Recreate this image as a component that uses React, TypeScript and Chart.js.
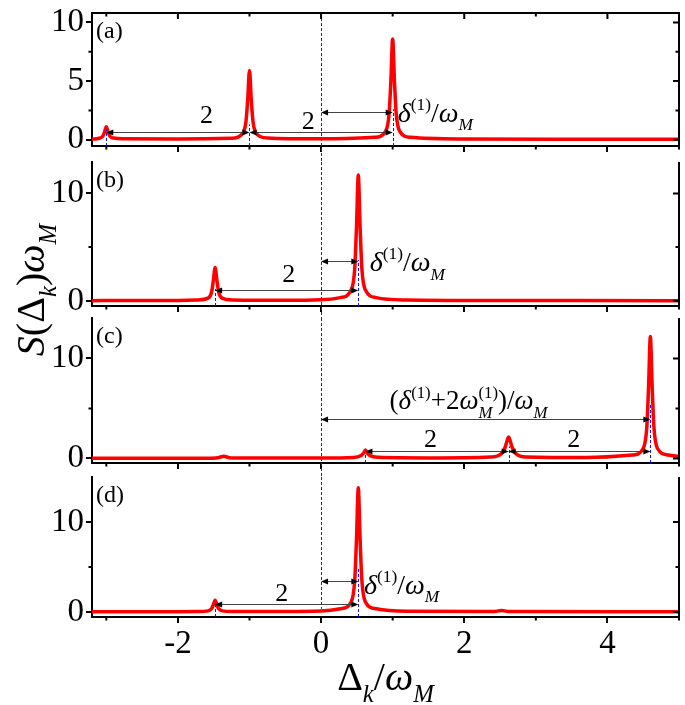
import { useEffect, useRef } from 'react';
import { Chart, registerables } from 'chart.js';
Chart.register(...registerables);

// ---------- shared axis values ----------
const X_MIN = -3.2;
const X_MAX = 5;
const xMajor = [-2, 0, 2, 4];
const xMinor = [-3, -1, 1, 3, 5];

// ---------- panel (a) ----------
const aX = [-3.2, -3.1, -3.05, -3.025, -3.0, -2.975, -2.95, -2.9, -2.75, -2.0, -1.25, -1.1, -1.05, -1.025, -1.0, -0.975, -0.95, -0.9, -0.75, 0.0, 0.75, 0.9, 0.95, 0.975, 1.0, 1.025, 1.05, 1.1, 1.25, 2.0, 3.5, 5.0];
const aY = [0.05, 0.12, 0.3, 0.65, 1.1, 0.65, 0.3, 0.14, 0.07, 0.05, 0.12, 0.5, 1.5, 3.4, 5.9, 3.4, 1.5, 0.5, 0.15, 0.07, 0.2, 0.7, 2.2, 5.0, 8.6, 5.0, 2.2, 0.7, 0.2, 0.06, 0.04, 0.03];
const aYRange = [-0.54, 10.81];
const aYMajor = [0, 5, 10];
const aYMinor = [2.5, 7.5];
const aPeakX = [-3, -1, 1];
const aPeakTop = [0.9, 1.3, 2.6];
const aArrowFrom = [-3, -1, 0];
const aArrowTo = [-1, 1, 1];
const aArrowY = [0.68, 0.62, 2.35];
const aLabelKind = ['2', '2', 'delta'];
const aLabelX = [-1.6, -0.18, 1.07];
const aLabelY = [2.0, 1.5, 2.3];

// ---------- panel (b) ----------
const bX = [-3.2, -2.0, -1.73, -1.58, -1.53, -1.505, -1.48, -1.455, -1.43, -1.38, -1.23, -0.5, 0.0, 0.27, 0.42, 0.47, 0.495, 0.52, 0.545, 0.57, 0.62, 0.77, 1.2, 2.5, 5.0];
const bY = [0.02, 0.04, 0.08, 0.25, 0.8, 1.9, 3.1, 1.9, 0.8, 0.25, 0.08, 0.05, 0.1, 0.3, 1.0, 3.0, 6.9, 11.7, 6.9, 3.0, 1.0, 0.3, 0.08, 0.03, 0.02];
const bYRange = [-0.48, 12.92];
const bYMajor = [0, 10];
const bYMinor = [5];
const bPeakX = [-1.48, 0.52];
const bPeakTop = [1.1, 3.8];
const bArrowFrom = [-1.48, 0];
const bArrowTo = [0.52, 0.52];
const bArrowY = [1.0, 3.75];
const bLabelKind = ['2', 'delta'];
const bLabelX = [-0.45, 0.68];
const bLabelY = [2.4, 3.6];

// ---------- panel (c) ----------
const cX = [-3.2, -1.6, -1.44, -1.36, -1.28, -1.1, 0.0, 0.45, 0.56, 0.595, 0.62, 0.645, 0.68, 0.8, 1.5, 2.37, 2.52, 2.57, 2.595, 2.62, 2.645, 2.67, 2.72, 2.87, 3.7, 4.35, 4.5, 4.55, 4.575, 4.6, 4.625, 4.65, 4.7, 4.85, 5.0];
const cY = [0.02, 0.03, 0.08, 0.22, 0.08, 0.04, 0.04, 0.1, 0.3, 0.55, 0.85, 0.55, 0.3, 0.12, 0.06, 0.15, 0.5, 1.1, 1.7, 2.15, 1.7, 1.1, 0.5, 0.15, 0.1, 0.35, 1.0, 3.1, 7.2, 12.2, 7.2, 3.1, 1.0, 0.35, 0.2];
const cYRange = [-0.45, 14.04];
const cYMajor = [0, 10];
const cYMinor = [5];
const cPeakX = [0.62, 2.62, 4.6];
const cPeakTop = [0.5, 1.2, 5.5];
const cArrowFrom = [0, 0.62, 2.62];
const cArrowTo = [4.6, 2.62, 4.6];
const cArrowY = [3.9, 0.75, 0.75];
const cLabelKind = ['sum', '2', '2'];
const cLabelX = [2.06, 1.53, 3.53];
const cLabelY = [5.8, 1.85, 1.85];

// ---------- panel (d) ----------
const dX = [-3.2, -2.0, -1.73, -1.58, -1.53, -1.505, -1.48, -1.455, -1.43, -1.38, -1.23, -0.5, 0.0, 0.27, 0.42, 0.47, 0.495, 0.52, 0.545, 0.57, 0.62, 0.77, 1.2, 2.4, 2.52, 2.64, 5.0];
const dY = [0.02, 0.03, 0.05, 0.12, 0.35, 0.8, 1.3, 0.8, 0.35, 0.12, 0.05, 0.05, 0.1, 0.35, 1.1, 3.5, 8.1, 13.8, 8.1, 3.5, 1.1, 0.35, 0.08, 0.04, 0.15, 0.04, 0.02];
const dYRange = [-0.56, 15.0];
const dYMajor = [0, 10];
const dYMinor = [5];
const dPeakX = [-1.48, 0.52];
const dPeakTop = [1.0, 5.0];
const dArrowFrom = [-1.48, 0];
const dArrowTo = [0.52, 0.52];
const dArrowY = [0.93, 3.4];
const dLabelKind = ['2', 'delta'];
const dLabelX = [-0.55, 0.6];
const dLabelY = [2.0, 3.0];
const dZeroLineEnd = 0.35;

// ---------- layout / style ----------
const W = 685;
const H = 705;
const AREA_LEFT = 92;
const AREA_RIGHT = 679;
const panelTop = [13, 162, 318, 477];
const panelBottom = [146, 306, 463, 617];
const xAxisH = [10, 10, 10, 50];
const RED = '#ff0000';
const SERIF = '"Liberation Serif", "Times New Roman", Times, serif';
const TICK_FONT = 33;

type Seg = { t: string; it?: boolean; sub?: boolean; sup?: boolean; under?: string };

const DELTA_LABEL: Seg[] = [
  { t: 'δ', it: true }, { t: '(1)', sup: true }, { t: '/' }, { t: 'ω', it: true }, { t: 'M', it: true, sub: true },
];
const SUM_LABEL: Seg[] = [
  { t: '(' }, { t: 'δ', it: true }, { t: '(1)', sup: true }, { t: '+2' }, { t: 'ω', it: true },
  { t: '(1)', sup: true, under: 'M' }, { t: ')/' }, { t: 'ω', it: true }, { t: 'M', it: true, sub: true },
];
const Y_TITLE: Seg[] = [
  { t: 'S', it: true }, { t: '(Δ' }, { t: 'k', it: true, sub: true }, { t: ')' }, { t: 'ω', it: true }, { t: 'M', it: true, sub: true },
];
const X_TITLE: Seg[] = [
  { t: 'Δ' }, { t: 'k', it: true, sub: true }, { t: '/' }, { t: 'ω', it: true }, { t: 'M', it: true, sub: true },
];

function fontStr(it: boolean, size: number) {
  return `${it ? 'italic ' : ''}${size}px ${SERIF}`;
}

function drawRich(ctx: CanvasRenderingContext2D, segs: Seg[], x: number, baseline: number, size: number, align: 'left' | 'center') {
  const small = size * 0.62;
  const widths = segs.map((s) => {
    ctx.font = fontStr(!!s.it, s.sub || s.sup ? small : size);
    let w = ctx.measureText(s.t).width;
    if (s.under) {
      ctx.font = fontStr(true, small);
      w = Math.max(w, ctx.measureText(s.under).width);
    }
    return w;
  });
  const total = widths.reduce((a, b) => a + b, 0);
  let cx = align === 'center' ? x - total / 2 : x;
  ctx.textAlign = 'left';
  ctx.textBaseline = 'alphabetic';
  segs.forEach((s, i) => {
    const sz = s.sub || s.sup ? small : size;
    ctx.font = fontStr(!!s.it, sz);
    const dy = s.sub ? size * 0.3 : s.sup ? -size * 0.42 : 0;
    ctx.fillText(s.t, cx, baseline + dy);
    if (s.under) {
      ctx.font = fontStr(true, small);
      ctx.fillText(s.under, cx, baseline + size * 0.3);
    }
    cx += widths[i];
  });
}

type Panel = {
  name: string;
  xs: number[]; ys: number[];
  yRange: number[]; yMajor: number[]; yMinor: number[];
  peakX: number[]; peakTop: number[];
  arrowFrom: number[]; arrowTo: number[]; arrowY: number[];
  labelKind: string[]; labelX: number[]; labelY: number[];
  top: number; bottom: number; axisH: number; gapBelow: number;
  topFrame: boolean; showX: boolean; zeroEnd: number | null; titles: boolean;
};

const PANELS: Panel[] = [
  { name: '(a)', xs: aX, ys: aY, yRange: aYRange, yMajor: aYMajor, yMinor: aYMinor, peakX: aPeakX, peakTop: aPeakTop, arrowFrom: aArrowFrom, arrowTo: aArrowTo, arrowY: aArrowY, labelKind: aLabelKind, labelX: aLabelX, labelY: aLabelY, top: panelTop[0], bottom: panelBottom[0], axisH: xAxisH[0], gapBelow: panelTop[1] - panelBottom[0], topFrame: true, showX: false, zeroEnd: null, titles: false },
  { name: '(b)', xs: bX, ys: bY, yRange: bYRange, yMajor: bYMajor, yMinor: bYMinor, peakX: bPeakX, peakTop: bPeakTop, arrowFrom: bArrowFrom, arrowTo: bArrowTo, arrowY: bArrowY, labelKind: bLabelKind, labelX: bLabelX, labelY: bLabelY, top: panelTop[1], bottom: panelBottom[1], axisH: xAxisH[1], gapBelow: panelTop[2] - panelBottom[1], topFrame: false, showX: false, zeroEnd: null, titles: false },
  { name: '(c)', xs: cX, ys: cY, yRange: cYRange, yMajor: cYMajor, yMinor: cYMinor, peakX: cPeakX, peakTop: cPeakTop, arrowFrom: cArrowFrom, arrowTo: cArrowTo, arrowY: cArrowY, labelKind: cLabelKind, labelX: cLabelX, labelY: cLabelY, top: panelTop[2], bottom: panelBottom[2], axisH: xAxisH[2], gapBelow: panelTop[3] - panelBottom[2], topFrame: false, showX: false, zeroEnd: null, titles: false },
  { name: '(d)', xs: dX, ys: dY, yRange: dYRange, yMajor: dYMajor, yMinor: dYMinor, peakX: dPeakX, peakTop: dPeakTop, arrowFrom: dArrowFrom, arrowTo: dArrowTo, arrowY: dArrowY, labelKind: dLabelKind, labelX: dLabelX, labelY: dLabelY, top: panelTop[3], bottom: panelBottom[3], axisH: xAxisH[3], gapBelow: 0, topFrame: false, showX: true, zeroEnd: dZeroLineEnd, titles: true },
];

function drawArrow(ctx: CanvasRenderingContext2D, x1: number, x2: number, y: number) {
  const hl = 7, hw = 3;
  ctx.strokeStyle = '#444';
  ctx.lineWidth = 1;
  ctx.setLineDash([]);
  ctx.beginPath();
  ctx.moveTo(x1 + 2, y);
  ctx.lineTo(x2 - 2, y);
  ctx.stroke();
  ctx.fillStyle = '#000';
  ctx.beginPath();
  ctx.moveTo(x1, y); ctx.lineTo(x1 + hl, y - hw); ctx.lineTo(x1 + hl, y + hw); ctx.closePath();
  ctx.fill();
  ctx.beginPath();
  ctx.moveTo(x2, y); ctx.lineTo(x2 - hl, y - hw); ctx.lineTo(x2 - hl, y + hw); ctx.closePath();
  ctx.fill();
}

function makeDecor(p: Panel) {
  return {
    id: 'decor',
    beforeDatasetsDraw(chart: any) {
      const ctx: CanvasRenderingContext2D = chart.ctx;
      const ca = chart.chartArea;
      const xs = chart.scales.x, ys = chart.scales.y;
      const x0 = Math.round(xs.getPixelForValue(0)) + 0.5;
      const yEnd = p.zeroEnd !== null ? ys.getPixelForValue(p.zeroEnd) : ca.bottom + p.gapBelow;
      ctx.save();
      ctx.strokeStyle = '#333';
      ctx.lineWidth = 1;
      ctx.setLineDash([3, 2]);
      ctx.beginPath();
      ctx.moveTo(x0, ca.top);
      ctx.lineTo(x0, yEnd);
      ctx.stroke();
      ctx.restore();
    },
    afterDatasetsDraw(chart: any) {
      const ctx: CanvasRenderingContext2D = chart.ctx;
      const ca = chart.chartArea;
      const xs = chart.scales.x, ys = chart.scales.y;
      ctx.save();
      // blue dashed peak markers
      ctx.strokeStyle = '#1010ff';
      ctx.lineWidth = 1;
      ctx.setLineDash([3, 2]);
      p.peakX.forEach((px, i) => {
        const x = Math.round(xs.getPixelForValue(px)) + 0.5;
        ctx.beginPath();
        ctx.moveTo(x, ca.bottom);
        ctx.lineTo(x, ys.getPixelForValue(p.peakTop[i]));
        ctx.stroke();
      });
      // arrows
      p.arrowFrom.forEach((f, i) => {
        drawArrow(ctx, xs.getPixelForValue(f), xs.getPixelForValue(p.arrowTo[i]), Math.round(ys.getPixelForValue(p.arrowY[i])) + 0.5);
      });
      // labels
      ctx.fillStyle = '#000';
      p.labelKind.forEach((k, i) => {
        const x = xs.getPixelForValue(p.labelX[i]);
        const y = ys.getPixelForValue(p.labelY[i]);
        if (k === '2') {
          ctx.font = fontStr(false, 26);
          ctx.textAlign = 'center';
          ctx.textBaseline = 'middle';
          ctx.fillText('2', x, y);
        } else if (k === 'delta') {
          drawRich(ctx, DELTA_LABEL, x, y + 9, 28, 'left');
        } else {
          drawRich(ctx, SUM_LABEL, x, y + 9, 27, 'center');
        }
      });
      // frame: right border, top border, minor & mirrored ticks
      ctx.setLineDash([]);
      ctx.strokeStyle = '#000';
      ctx.lineWidth = 2;
      ctx.beginPath();
      ctx.moveTo(ca.right, p.topFrame ? ca.top - 1 : ca.top);
      ctx.lineTo(ca.right, ca.bottom + 1);
      if (p.topFrame) {
        ctx.moveTo(ca.left - 1, ca.top);
        ctx.lineTo(ca.right + 1, ca.top);
      }
      const maj = 6, mnr = 3.5;
      p.yMajor.forEach((v) => { const y = ys.getPixelForValue(v); ctx.moveTo(ca.right, y); ctx.lineTo(ca.right - maj, y); });
      p.yMinor.forEach((v) => {
        const y = ys.getPixelForValue(v);
        ctx.moveTo(ca.right, y); ctx.lineTo(ca.right - mnr, y);
        ctx.moveTo(ca.left, y); ctx.lineTo(ca.left - mnr, y);
      });
      xMinor.forEach((v) => {
        const x = xs.getPixelForValue(v);
        ctx.moveTo(x, ca.bottom); ctx.lineTo(x, ca.bottom + mnr);
      });
      if (p.topFrame) {
        xMajor.forEach((v) => { const x = xs.getPixelForValue(v); ctx.moveTo(x, ca.top); ctx.lineTo(x, ca.top + maj); });
        xMinor.forEach((v) => { const x = xs.getPixelForValue(v); ctx.moveTo(x, ca.top); ctx.lineTo(x, ca.top + mnr); });
      }
      ctx.stroke();
      // panel label
      ctx.fillStyle = '#000';
      ctx.font = fontStr(false, 24);
      ctx.textAlign = 'left';
      ctx.textBaseline = 'middle';
      ctx.fillText(p.name, ca.left + 4, ca.top + 19);
      // axis titles
      if (p.titles) {
        const cx = (ca.left + ca.right) / 2;
        drawRich(ctx, X_TITLE, cx, 690, 40, 'center');
        ctx.save();
        ctx.translate(44, 290);
        ctx.rotate(-Math.PI / 2);
        drawRich(ctx, Y_TITLE, 0, 0, 40, 'center');
        ctx.restore();
      }
      ctx.restore();
    },
  };
}

function buildConfig(p: Panel): any {
  const tickFont = { family: SERIF, size: TICK_FONT };
  return {
    type: 'line',
    data: {
      datasets: [{
        data: p.xs.map((x, i) => ({ x, y: p.ys[i] })),
        borderColor: RED,
        borderWidth: 3.5,
        pointRadius: 0,
        fill: false,
        cubicInterpolationMode: 'monotone',
        borderJoinStyle: 'round',
        borderCapStyle: 'round',
      }],
    },
    options: {
      animation: false,
      responsive: false,
      devicePixelRatio: 1,
      events: [],
      layout: { padding: { left: 0, right: W - AREA_RIGHT, top: p.top, bottom: H - p.bottom - p.axisH } },
      plugins: { legend: { display: false }, tooltip: { enabled: false }, title: { display: false } },
      scales: {
        x: {
          type: 'linear',
          min: X_MIN,
          max: X_MAX,
          afterBuildTicks: (s: any) => { s.ticks = xMajor.map((v) => ({ value: v })); },
          afterFit: (s: any) => { s.height = p.axisH; s.paddingLeft = 0; s.paddingRight = 0; },
          ticks: { display: p.showX, font: tickFont, color: '#000', padding: 2, maxRotation: 0, autoSkip: false },
          grid: { drawOnChartArea: false, drawTicks: true, tickLength: 6, color: '#000', lineWidth: 2 },
          border: { display: true, color: '#000', width: 2 },
        },
        y: {
          type: 'linear',
          min: p.yRange[0],
          max: p.yRange[1],
          afterBuildTicks: (s: any) => { s.ticks = p.yMajor.map((v) => ({ value: v })); },
          afterFit: (s: any) => { s.width = AREA_LEFT; s.paddingTop = 0; s.paddingBottom = 0; },
          ticks: { font: tickFont, color: '#000', padding: 2, autoSkip: false },
          grid: { drawOnChartArea: false, drawTicks: true, tickLength: 6, color: '#000', lineWidth: 2 },
          border: { display: true, color: '#000', width: 2 },
        },
      },
    },
    plugins: [makeDecor(p)],
  };
}

export default function App() {
  const canvases = useRef<(HTMLCanvasElement | null)[]>([]);
  useEffect(() => {
    const charts = PANELS.map((p, i) => new Chart(canvases.current[i] as HTMLCanvasElement, buildConfig(p)));
    return () => charts.forEach((c) => c.destroy());
  }, []);
  return (
    <div style={{ position: 'absolute', left: 0, top: 0, width: W, height: H, background: '#fff' }}>
      {PANELS.map((p, i) => (
        <canvas
          key={p.name}
          ref={(el) => { canvases.current[i] = el; }}
          width={W}
          height={H}
          style={{ position: 'absolute', left: 0, top: 0, width: W, height: H }}
        />
      ))}
    </div>
  );
}
